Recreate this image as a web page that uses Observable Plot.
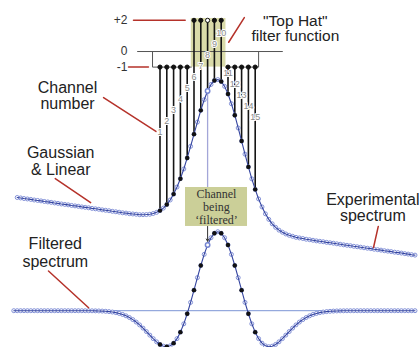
<!DOCTYPE html>
<html><head><meta charset="utf-8">
<script src="https://cdn.jsdelivr.net/npm/d3@7"></script>
<script src="https://cdn.jsdelivr.net/npm/@observablehq/plot@0.6"></script>
<style>body{margin:0;background:#fff}#chart{width:420px;height:347px;overflow:hidden}</style>
</head><body><div id="chart"></div>
<script>
// ---------- data ----------
const channels = [1,2,3,4,5,6,7,8,9,10,11,12,13,14,15];
const filterWeights = [-1,-1,-1,-1,-1,2,2,2,2,2,-1,-1,-1,-1,-1];
const filteredChannel = 8;
const filterTickValues = [2, 0, -1];
const filterTickLabels = ["+2", "0", "-1"];
const expStart = -20, sampleStep = 0.5;
const expValues = [
50.0,49.7,49.3,49.0,48.7,48.3,48.0,47.7,47.3,47.0,
46.7,46.3,46.0,45.6,45.3,45.0,44.6,44.3,44.0,43.6,
43.3,43.0,42.6,42.3,42.0,41.6,41.3,41.0,40.6,40.3,
40.0,39.6,39.4,39.0,38.8,38.6,38.3,38.3,38.4,38.6,
39.1,39.9,41.1,42.8,45.2,48.3,52.3,57.1,62.8,69.4,
76.9,84.8,93.1,101.3,109.3,116.5,122.4,126.9,129.6,130.2,
128.9,125.6,120.4,113.8,106.0,97.3,88.4,79.5,70.8,62.7,
55.5,49.0,43.6,38.9,35.1,32.1,29.7,27.8,26.4,25.2,
24.3,23.6,22.9,22.5,22.1,21.6,21.3,20.9,20.5,20.2,
19.9,19.5,19.2,18.9,18.5,18.2,17.8,17.5,17.2,16.8,
16.5,16.2,15.8,15.5,15.2,14.8,14.5,14.2,13.8,13.5,
13.2,12.8,12.5,12.2,11.8,11.5,11.1,10.8];
const filtStart = -20.5;
const filtValues = [
0,0,0,0,0,0,0,0,0,0,0,0,0,0,0,0,0,0,0,0,
-0.1,-0.2,-0.4,-0.7,-1.1,-1.7,-2.7,-4.2,-6.2,-9.1,
-13.2,-18.6,-25.7,-34.9,-46.5,-60.6,-77.4,-96.8,-118.5,-142.0,
-166.2,-190.0,-211.8,-229.6,-241.4,-245.1,-238.9,-220.8,-190.1,-146.0,
-89.2,-20.9,56.4,139.7,224.8,307.5,383.1,447.3,496.3,526.9,
537.4,
526.9,496.3,447.3,383.1,307.5,224.8,139.7,56.4,-20.9,-89.2,
-146.0,-190.1,-220.8,-238.9,-245.1,-241.4,-229.6,-211.8,-190.0,-166.2,
-142.0,-118.5,-96.8,-77.4,-60.6,-46.5,-34.9,-25.7,-18.6,-13.2,
-9.1,-6.2,-4.2,-2.7,-1.7,-1.1,-0.7,-0.4,-0.2,-0.1,
0,0,0,0,0,0,0,0,0,0,0,0,0,0,0,0,0,0];

// ---------- layout ----------
const filterBase = 149.3, filterUnit = 10.6;   // filter-function panel
const filtBase = -27, filtUnit = 0.1;          // filtered-spectrum panel
const fy = v => filterBase + v * filterUnit;
const ty = v => filtBase + v * filtUnit;
const near = (a, b) => Math.abs(a - b) < 1e-6;

const exp = expValues.map((v, i) => ({c: expStart + i * sampleStep, v}));
const filt = filtValues.map((v, i) => ({c: filtStart + i * sampleStep, v: ty(v)}));
const expAt = c => exp.find(d => near(d.c, c)).v;
const filtAt = c => filt.find(d => near(d.c, c)).v;
const stems = channels.map((c, i) => ({c, w: filterWeights[i], top: fy(filterWeights[i]), bottom: expAt(c)}));
const expDots = channels.filter(c => c !== filteredChannel).map(c => ({c, v: expAt(c)}));
const filtDots = channels.filter(c => c !== filteredChannel).map(c => ({c, v: filtAt(c)}));
const chanLabelY = c => c <= 10 ? 94.2 + 7.48 * (c - 1) : 134.3 - 7.48 * (c - 11);

const boxTop = 56.8, boxBottom = 30.3;
const red = "#b5322a", lav = "#a3a6d8";

const texts = [
  {t: "Channel\nnumber", c: -12.6, y: 119.4, lh: 1.0, fs: 16},
  {t: "Gaussian\n& Linear", c: -13.6, y: 74.5, lh: 1.04, fs: 16},
  {t: "Filtered\nspectrum", c: -14.4, y: 12.6, lh: 1.08, fs: 16},
  {t: "Experimental\nspectrum", c: 32.3, y: 42.7, lh: 1.0, fs: 16},
  {t: "\"Top Hat\"\nfilter function", c: 20.9, y: 165.0, lh: 1.0, fs: 15.5}
];
const redArrows = [
  {x1: -2.9, y1: fy(2), x2: 4.7, y2: fy(2), bend: 0},
  {x1: -3.63, y1: fy(-1), x2: -0.7, y2: fy(-1), bend: 0},
  {x1: -7.3, y1: 118.0, x2: 0.4, y2: 94.9, bend: -25},
  {x1: -14.4, y1: 62.9, x2: -9.2, y2: 46.5, bend: 40},
  {x1: -15.4, y1: 0, x2: -9.5, y2: -25.0, bend: 25},
  {x1: 33.1, y1: 30.3, x2: 32.4, y2: 16.0, bend: 0},
  {x1: 13.4, y1: 172.4, x2: 11.1, y2: 155.6, bend: 40}
];

const chart = Plot.plot({
  width: 420, height: 347, margin: 0,
  x: {domain: [-22.456, 39.309], range: [0, 420], axis: null},
  y: {domain: [-52.04, 184.01], range: [347, 0], axis: null},
  style: {fontFamily: "'Liberation Sans', Arial, sans-serif", background: "white", overflow: "hidden"},
  marks: [
    // top-hat shading
    Plot.rect([0], {x1: () => 5.6, x2: () => 10.7, y1: () => fy(-1), y2: () => fy(2.12), fill: "#d2d49a", fillOpacity: 0.85}),
    // label box
    Plot.rect([0], {x1: () => 4.75, x2: () => 13.87, y1: () => boxBottom, y2: () => boxTop, fill: "#cbcf98"}),
    // filter outline: zero line and brackets
    Plot.line([{c: -2.3, y: fy(0)}, {c: 19.0, y: fy(0)}], {x: "c", y: "y", stroke: "#555", strokeWidth: 1}),
    Plot.line([{c: -0.1, y: fy(0)}, {c: -0.1, y: fy(-1)}, {c: 5.6, y: fy(-1)}], {x: "c", y: "y", stroke: "#555", strokeWidth: 1}),
    Plot.line([{c: 10.7, y: fy(-1)}, {c: 15.5, y: fy(-1)}, {c: 15.5, y: fy(0)}], {x: "c", y: "y", stroke: "#555", strokeWidth: 1}),
    // filter tick labels
    Plot.text(filterTickValues, {x: () => -3.8, y: v => fy(v), text: (v, i) => filterTickLabels[i], textAnchor: "end", fontSize: 12, fill: "#333"}),
    // channel being filtered guide line
    Plot.ruleX([filteredChannel], {y1: expAt(filteredChannel), y2: boxTop, stroke: lav, strokeWidth: 1.3}),
    // filtered baseline
    Plot.ruleY([ty(0)], {x1: filtStart, x2: 38.5, stroke: "#7d95d6", strokeWidth: 1}),
    // stems
    Plot.ruleX(stems, {x: "c", y1: "top", y2: "bottom", stroke: "#151515", strokeWidth: 1.6}),
    Plot.dot(stems, {x: "c", y: "top", r: 2.1, fill: d => d.c === filteredChannel ? "white" : "#111", stroke: "#111", strokeWidth: 1}),
    // channel numbers
    Plot.text(channels, {x: c => c, y: chanLabelY, text: c => String(c), fontSize: 9, fill: "#8a8a8a", stroke: "white", strokeWidth: 2, paintOrder: "stroke"}),
    // experimental spectrum
    Plot.dot(exp, {x: "c", y: "v", r: 2, stroke: "#7686d2", fill: "white", strokeWidth: 0.9}),
    Plot.line(exp, {x: "c", y: "v", stroke: "#34449f", strokeWidth: 1.1}),
    Plot.dot(expDots, {x: "c", y: "v", r: 2.2, fill: "#111"}),
    Plot.dot([filteredChannel], {x: c => c, y: c => expAt(c), r: 2.2, fill: "white", stroke: "#7686d2"}),
    // filtered spectrum
    Plot.dot(filt, {x: "c", y: "v", r: 2, stroke: "#7686d2", fill: "white", strokeWidth: 0.9}),
    Plot.line(filt, {x: "c", y: "v", stroke: "#34449f", strokeWidth: 1.1}),
    Plot.dot(filtDots, {x: "c", y: "v", r: 2.2, fill: "#111"}),
    Plot.dot([filteredChannel], {x: c => c, y: c => filtAt(c), r: 2.2, fill: "white", stroke: "#7686d2"}),
    // arrow from box to filtered point
    Plot.arrow([0], {x1: () => filteredChannel, x2: () => filteredChannel, y1: () => boxBottom, y2: () => filtAt(filteredChannel) + 2.5, stroke: "#333", strokeWidth: 1, headLength: 4}),
    // box text
    Plot.text([0], {x: () => 9.3, y: () => (boxTop + boxBottom) / 2, text: () => "Channel\nbeing\n\u2018filtered\u2019", fontFamily: "'Liberation Serif', 'Times New Roman', serif", fontSize: 12, lineHeight: 1.05, fill: "#333"}),
    // red annotation arrows
    Plot.arrow(redArrows, {x1: "x1", y1: "y1", x2: "x2", y2: "y2", bend: d => d.bend, stroke: red, strokeWidth: 1.5, headLength: 6}),
    // annotation texts
    ...texts.map(d => Plot.text([d], {x: "c", y: "y", text: "t", fontSize: d.fs, lineHeight: d.lh, fill: "#222"}))
  ]
});
document.getElementById("chart").appendChild(chart);
</script>
</body></html>
